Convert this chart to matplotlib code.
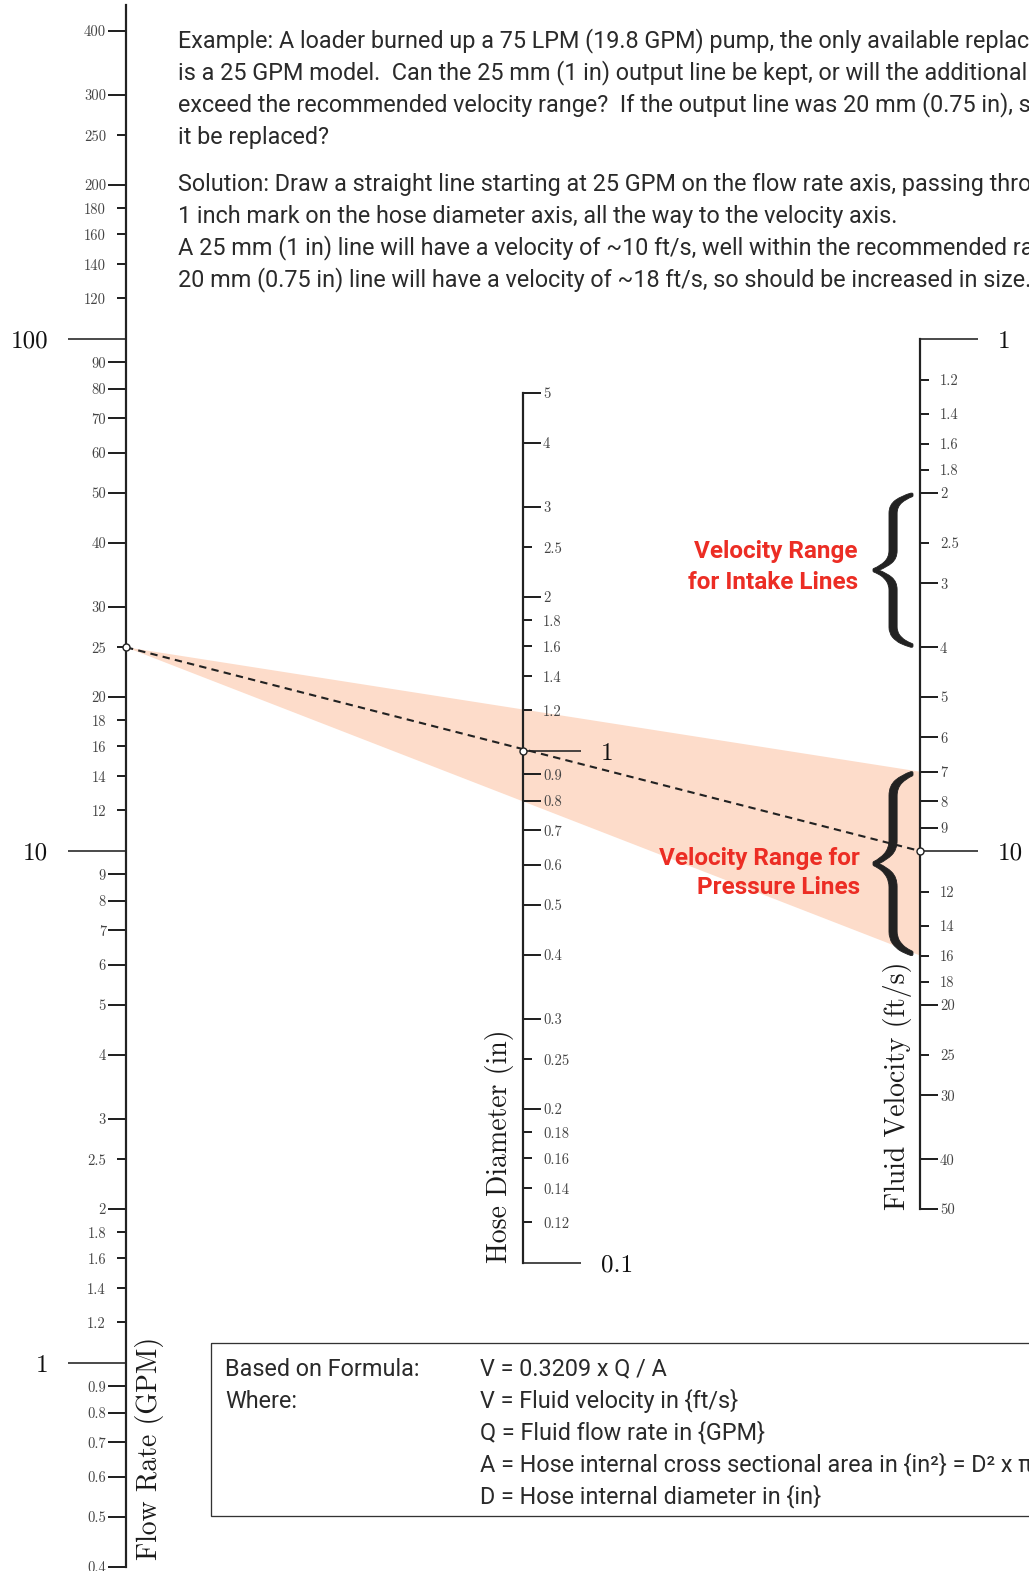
import numpy as np
import matplotlib
matplotlib.use('Agg')
import matplotlib.pyplot as plt
from matplotlib.transforms import blended_transform_factory, Affine2D
from matplotlib.textpath import TextPath
from matplotlib.patches import PathPatch, Rectangle, Polygon

plt.rcParams['mathtext.fontset'] = 'cm'

W, H = 1029, 1571
DEC = 512.0          # pixels per decade on every scale
PT = 0.72            # points per pixel at dpi 100

# ---- scale values ----
flow_decades = [1, 10, 100]
flow_long = [0.4, 0.5, 0.6, 0.7, 0.8, 0.9, 2, 3, 4, 5, 6, 7, 8, 9,
             20, 30, 40, 50, 60, 70, 80, 90, 200, 300, 400]
flow_short = [1.2, 1.4, 1.6, 1.8, 2.5, 12, 14, 16, 18, 25, 120, 140, 160, 180, 250]
flow_range = (0.4, 450)

dia_decades = [0.1, 1]
dia_long = [0.2, 0.3, 0.4, 0.5, 0.6, 0.7, 0.8, 0.9, 2, 3, 4, 5]
dia_short = [0.12, 0.14, 0.16, 0.18, 0.25, 1.2, 1.4, 1.6, 1.8, 2.5]
dia_range = (0.1, 5)

vel_decades = [1, 10]
vel_long = [2, 3, 4, 5, 6, 7, 8, 9, 20, 30, 40, 50]
vel_short = [1.2, 1.4, 1.6, 1.8, 2.5, 12, 14, 16, 18, 25]
vel_range = (50, 1)   # bottom, top (velocity grows downward)

# ---- worked example ----
ex_flow = 25
ex_dia = 1
ex_vel = 10
intake_range = (2, 4)
pressure_range = (7, 16)

example_lines = [
    "Example: A loader burned up a 75 LPM (19.8 GPM) pump, the only available replacement",
    "is a 25 GPM model.  Can the 25 mm (1 in) output line be kept, or will the additional flow",
    "exceed the recommended velocity range?  If the output line was 20 mm (0.75 in), should",
    "it be replaced?",
]
solution_lines = [
    "Solution: Draw a straight line starting at 25 GPM on the flow rate axis, passing through the",
    "1 inch mark on the hose diameter axis, all the way to the velocity axis.",
    "A 25 mm (1 in) line will have a velocity of ~10 ft/s, well within the recommended range.  A",
    "20 mm (0.75 in) line will have a velocity of ~18 ft/s, so should be increased in size.",
]
formula_left = ["Based on Formula:", "Where:", "", "", ""]
formula_right = ["V = 0.3209 x Q / A",
                 "V = Fluid velocity in {ft/s}",
                 "Q = Fluid flow rate in {GPM}",
                 "A = Hose internal cross sectional area in {in\u00b2} = D\u00b2 x \u03c0 / 4",
                 "D = Hose internal diameter in {in}"]

INK = '#222222'
BODY = '#2a2a2a'
RED = '#ec2d24'
SHADE = '#fddcca'
SANS = 'Roboto'
BODY_SIZE = 16.8

fig = plt.figure(figsize=(W / 100, H / 100), dpi=100)

under = fig.add_axes([0, 0, 1, 1], zorder=0)
under.set_xlim(0, W)
under.set_ylim(H, 0)
under.axis('off')


def fmt(v):
    return '%g' % v


def scale_axis(x_px, row_of, vrange, decades, long_t, short_t, side):
    lo, hi = vrange
    r_lo, r_hi = row_of(lo), row_of(hi)
    top, bot = min(r_lo, r_hi), max(r_lo, r_hi)
    w = 2
    left = x_px if side == 'left' else x_px - w
    rect = [left / W, 1 - bot / H, w / W, (bot - top) / H]
    axes = []
    for k in range(2):
        a = fig.add_axes(rect, zorder=2)
        a.set_yscale('log')
        a.set_ylim(lo, hi)
        a.set_xlim(0, 1)
        a.set_xticks([])
        a.patch.set_visible(False)
        for s in a.spines.values():
            s.set_visible(False)
        if side == 'right':
            a.yaxis.tick_right()
        axes.append(a)
    ax, axd = axes
    ax.spines[side].set_visible(True)
    ax.spines[side].set_linewidth(2.2 * PT)
    ax.spines[side].set_color(INK)
    ax.set_yticks(long_t, labels=[fmt(v) for v in long_t])
    ax.set_yticks(short_t, labels=[fmt(v) for v in short_t], minor=True)
    ax.tick_params(which='major', length=18 * PT, width=2 * PT, pad=2 * PT,
                   color=INK, labelsize=10.5, labelcolor='#444444',
                   labelfontfamily='cmr10')
    ax.tick_params(which='minor', length=9 * PT, width=2 * PT, pad=11 * PT,
                   color=INK, labelsize=10.5, labelcolor='#444444',
                   labelfontfamily='cmr10')
    axd.set_yticks(decades, labels=[fmt(v) for v in decades])
    axd.set_yticks([], minor=True)
    axd.tick_params(which='major', length=58 * PT, width=1.6 * PT, pad=20 * PT,
                    color=INK, labelsize=18, labelcolor='#111111',
                    labelfontfamily='cmr10')
    ax.spine_x = 0 if side == 'left' else 1
    return ax


ax_q = scale_axis(126, lambda v: 339 - np.log10(v / 100) * DEC, flow_range,
                  flow_decades, flow_long, flow_short, 'left')
ax_d = scale_axis(523, lambda v: 751 - np.log10(v) * DEC, dia_range,
                  dia_decades, dia_long, dia_short, 'right')
ax_v = scale_axis(920, lambda v: 339 + np.log10(v) * DEC, vel_range,
                  vel_decades, vel_long, vel_short, 'right')

top = fig.add_axes([0, 0, 1, 1], zorder=3)
top.set_xlim(0, W)
top.set_ylim(H, 0)
top.axis('off')


def on_scale(ax, v):
    tr = blended_transform_factory(ax.transAxes, ax.transData)
    return top.transData.inverted().transform(tr.transform((ax.spine_x, v)))


pq = on_scale(ax_q, ex_flow)
pd = on_scale(ax_d, ex_dia)
pv = on_scale(ax_v, ex_vel)

# recommended pressure-line band
under.add_patch(Polygon([pq, on_scale(ax_v, pressure_range[0]),
                         on_scale(ax_v, pressure_range[1])],
                        closed=True, facecolor=SHADE, edgecolor='none'))

# isopleth
top.plot([pq[0], pv[0]], [pq[1], pv[1]], color=INK, lw=2.1 * PT,
         linestyle=(0, (3.5, 2.5)))
for p in (pq, pd, pv):
    top.plot(p[0], p[1], 'o', ms=7 * PT, mfc='white', mec=INK, mew=1.4 * PT)

# braces
brace_path = TextPath((0, 0), r'$\{$', size=100)
bb = brace_path.get_extents()


def brace(v0, v1):
    a = on_scale(ax_v, v0)
    b = on_scale(ax_v, v1)
    x0 = a[0] - 47
    bw = 40
    bh = b[1] - a[1]
    tf = (Affine2D().translate(-bb.x0, -bb.y1)
          .scale(bw / bb.width, -bh / bb.height)
          .translate(x0, a[1]))
    top.add_patch(PathPatch(tf.transform_path(brace_path), facecolor=INK,
                            edgecolor=INK, lw=0.6, transform=top.transData))


brace(*intake_range)
brace(*pressure_range)

top.text(858, 567, "Velocity Range\nfor Intake Lines", ha='right', va='center',
         color=RED, fontsize=17.5, fontweight='bold', family=SANS, linespacing=1.42)
top.text(860, 873, "Velocity Range for\nPressure Lines", ha='right', va='center',
         color=RED, fontsize=17.5, fontweight='bold', family=SANS, linespacing=1.38)

# axis titles
top.text(150, 1448, "Flow Rate (GPM)", rotation=90, ha='center', va='center',
         family='cmr10', fontsize=20, color='#1a1a1a')
top.text(500, 1146, "Hose Diameter (in)", rotation=90, ha='center', va='center',
         family='cmr10', fontsize=20, color='#1a1a1a')
top.text(897, 1086, "Fluid Velocity (ft/s)", rotation=90, ha='center', va='center',
         family='cmr10', fontsize=20, color='#1a1a1a')

# explanation text
for i, s in enumerate(example_lines):
    top.text(178, 41 + 32 * i, s, ha='left', va='center', fontsize=BODY_SIZE,
             family=SANS, color=BODY)
for i, s in enumerate(solution_lines):
    top.text(178, 184 + 32 * i, s, ha='left', va='center', fontsize=BODY_SIZE,
             family=SANS, color=BODY)

# formula box
top.add_patch(Rectangle((211, 1343), 900, 173, facecolor='none',
                        edgecolor='#333333', lw=1.3 * PT))
for i, (l, r) in enumerate(zip(formula_left, formula_right)):
    y = 1369 + 32 * i
    if l:
        top.text(225, y, l, ha='left', va='center', fontsize=BODY_SIZE,
                 family=SANS, color=BODY)
    top.text(480, y, r, ha='left', va='center', fontsize=BODY_SIZE,
             family=SANS, color=BODY)

plt.savefig('out.png', dpi=100)
